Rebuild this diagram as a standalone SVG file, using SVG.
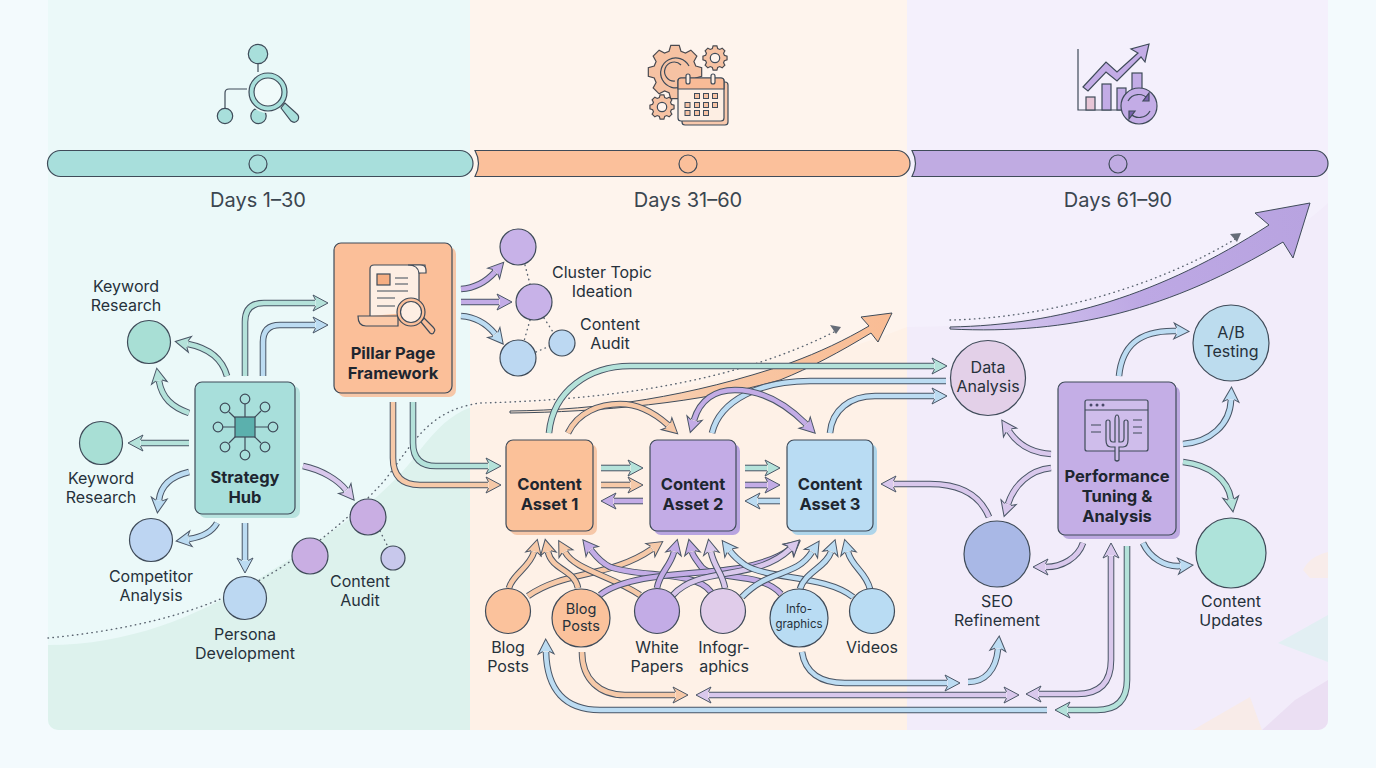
<svg xmlns="http://www.w3.org/2000/svg" width="1376" height="768" viewBox="0 0 1376 768">
<style>
text{font-family:Inter,"Noto Sans","Liberation Sans",sans-serif;text-anchor:middle;fill:#26313b}
.l{font-size:16px}
.d{font-size:20px;fill:#3b4650}
.b{font-size:16.5px;font-weight:700;fill:#1e2630}
.s{stroke:#3f4b59;stroke-width:1.2}
.n{stroke:#3f4b59;stroke-width:1.2;fill:none}
.o{fill:none;stroke:#4a5666;stroke-width:6.6}
.i{fill:none;stroke-width:4.6}
.teal{stroke:#b4e2da;marker-end:url(#h-teal)}
.peach{stroke:#f6c9a8;marker-end:url(#h-peach)}
.purp{stroke:#c3ace6;marker-end:url(#h-purp)}
.lil{stroke:#d9c8ec;marker-end:url(#h-lil)}
.blue{stroke:#bcdcf2;marker-end:url(#h-blue)}
.dot{fill:none;stroke:#5a6470;stroke-width:1.4;stroke-linecap:round;stroke-dasharray:.5 4.4}
.sh{stroke:none}
</style>
<defs>
<marker id="h-teal" markerUnits="userSpaceOnUse" markerWidth="30" markerHeight="30" viewBox="-5 -15 30 30" refX="0" refY="0" orient="auto-start-reverse"><path d="M.5,3.2L-2,8L13,0L-2,-8L.5,-3.2" fill="#b4e2da" stroke="#4a5666" stroke-width="1"/></marker>
<marker id="h-peach" markerUnits="userSpaceOnUse" markerWidth="30" markerHeight="30" viewBox="-5 -15 30 30" refX="0" refY="0" orient="auto-start-reverse"><path d="M.5,3.2L-2,8L13,0L-2,-8L.5,-3.2" fill="#f6c9a8" stroke="#4a5666" stroke-width="1"/></marker>
<marker id="h-purp" markerUnits="userSpaceOnUse" markerWidth="30" markerHeight="30" viewBox="-5 -15 30 30" refX="0" refY="0" orient="auto-start-reverse"><path d="M.5,3.2L-2,8L13,0L-2,-8L.5,-3.2" fill="#c3ace6" stroke="#4a5666" stroke-width="1"/></marker>
<marker id="h-lil" markerUnits="userSpaceOnUse" markerWidth="30" markerHeight="30" viewBox="-5 -15 30 30" refX="0" refY="0" orient="auto-start-reverse"><path d="M.5,3.2L-2,8L13,0L-2,-8L.5,-3.2" fill="#d9c8ec" stroke="#4a5666" stroke-width="1"/></marker>
<marker id="h-blue" markerUnits="userSpaceOnUse" markerWidth="30" markerHeight="30" viewBox="-5 -15 30 30" refX="0" refY="0" orient="auto-start-reverse"><path d="M.5,3.2L-2,8L13,0L-2,-8L.5,-3.2" fill="#bcdcf2" stroke="#4a5666" stroke-width="1"/></marker>
<linearGradient id="gp" gradientUnits="userSpaceOnUse" x1="510" y1="412" x2="892" y2="313"><stop offset="0" stop-color="#fdeadb"/><stop offset=".5" stop-color="#f8c8a6"/><stop offset="1" stop-color="#f9bc94"/></linearGradient>
<linearGradient id="gv" gradientUnits="userSpaceOnUse" x1="950" y1="330" x2="1310" y2="203"><stop offset="0" stop-color="#d9cdf0"/><stop offset=".5" stop-color="#bda8e4"/><stop offset="1" stop-color="#b8a3e0"/></linearGradient>
<clipPath id="panel"><rect x="48" y="-10" width="1280" height="740" rx="10"/></clipPath>
<clipPath id="c1"><rect x="48" y="0" width="422" height="730"/></clipPath>
<clipPath id="c2"><rect x="470" y="0" width="437" height="730"/></clipPath>
<clipPath id="c3"><rect x="907" y="0" width="421" height="730"/></clipPath>
<path id="wave" d="M0,645H48C130,645 200,615 260,578C320,540 380,505 420,450C440,425 455,410 480,405C620,402 770,380 907,327C1050,327 1240,285 1328,203V740H0Z"/>
<path id="gear" vector-effect="non-scaling-stroke" d="M7.69,-2.21L9.88,-1.56L9.88,1.56L7.69,2.21L7,3.88L8.09,5.88L5.88,8.09L3.88,7L2.21,7.69L1.56,9.88L-1.56,9.88L-2.21,7.69L-3.88,7L-5.88,8.09L-8.09,5.88L-7,3.88L-7.69,2.21L-9.88,1.56L-9.88,-1.56L-7.69,-2.21L-7,-3.88L-8.09,-5.88L-5.88,-8.09L-3.88,-7L-2.21,-7.69L-1.56,-9.88L1.56,-9.88L2.21,-7.69L3.88,-7L5.88,-8.09L8.09,-5.88L7,-3.88Z"/>
</defs>

<g id="background">
<rect width="1376" height="768" fill="#f3fafd"/>
<g clip-path="url(#panel)">
<rect x="48" y="-10" width="422" height="740" fill="#ebf9f9"/>
<rect x="470" y="-10" width="437" height="740" fill="#fef4ed"/>
<rect x="907" y="-10" width="421" height="740" fill="#f4f0fc"/>
<use href="#wave" fill="#ddf2ed" clip-path="url(#c1)"/>
<use href="#wave" fill="#fef1e7" clip-path="url(#c2)"/>
<use href="#wave" fill="#f2ecfa" clip-path="url(#c3)"/>
<polygon points="1278,643 1328,615 1328,662" fill="#e2eff3"/>
<path d="M1303,570Q1310,556 1328,552V578H1310Z" fill="#f8ecea"/>
<path d="M1193,730L1250,697L1262,730Z" fill="#f8ebe8"/>
<path d="M1262,730L1295,700L1328,680V730Z" fill="#ebdff3"/>
</g>
</g>

<g id="phase-1">
<rect x="47.500" y="150.500" width="425.500" height="26" rx="13" fill="#a8dfdc" class="s"/>
<circle cx="258" cy="164" r="9" fill="#a8dfdc" class="s"/>
<text class="d" x="258" y="207">Days 1–30</text>
<g id="icon-search">
<path class="n" d="M258,64V72M225,108V93Q225,89 229,89H247"/>
<circle cx="258" cy="54" r="9.700" fill="#a8dfdb" class="s"/>
<circle cx="225" cy="116" r="7.700" fill="#a8dfdb" class="s"/>
<circle cx="258.500" cy="116" r="7.700" fill="#a8dfdb" class="s"/>
<circle cx="268" cy="92" r="21" fill="#ebf9f9"/>
<path d="M281,108L291,121Q295,124 298,120Q300,116 296,113L285,103Z" fill="#a8dfdb" class="s"/>
<circle cx="268" cy="92" r="19" fill="#a8dfdb" class="s"/>
<circle cx="268" cy="92" r="14" fill="#f0fafa" class="s"/>
</g>
</g>

<g id="phase-2">
<path d="M475,150.500H897A13,13 0 0 1 897,176.500H475Q482,163.500 475,150.500Z" fill="#fbc09b" class="s"/>
<circle cx="688" cy="164" r="9" fill="#fbc09b" class="s"/>
<text class="d" x="688" y="207">Days 31–60</text>
<g id="icon-calendar">
<use href="#gear" transform="translate(675,72) scale(2.700)" fill="#f6c2a3" stroke="#4a4a50" stroke-width="1.200"/>
<path class="n" d="M689,66A15,15 0 1 0 683,86M681,65A9.500,9.500 0 1 0 675,81"/>
<use href="#gear" transform="translate(715,58) scale(1.220)" fill="#f6c2a3" stroke="#4a4a50" stroke-width="1.200"/>
<circle cx="715" cy="58" r="4.700" fill="#fef3ec" class="s"/>
<use href="#gear" transform="translate(662,107) scale(1.220)" fill="#f6c2a3" stroke="#4a4a50" stroke-width="1.200"/>
<circle cx="662" cy="107" r="4.700" fill="#fef3ec" class="s"/>
<rect x="682" y="82" width="46" height="43" rx="3" fill="#f8c8ac" class="s"/>
<rect x="678" y="78" width="46" height="43" rx="3" fill="#fdeee3" class="s"/>
<path d="M678,89V81Q678,78 681,78H721Q724,78 724,81V89Z" fill="#f9bb97" class="s"/>
<rect x="686" y="74" width="4" height="10" rx="2" fill="#fdeee3" class="s"/>
<rect x="711" y="74" width="4" height="10" rx="2" fill="#fdeee3" class="s"/>
<g fill="#f6c2a3" stroke="#3f4b59" stroke-width="1">
<rect x="694.500" y="93.500" width="5" height="5"/><rect x="703.500" y="93.500" width="5" height="5"/><rect x="712.500" y="93.500" width="5" height="5"/>
<rect x="685" y="102.500" width="5" height="5"/><rect x="694.500" y="102.500" width="5" height="5"/><rect x="703.500" y="102.500" width="5" height="5"/><rect x="712.500" y="102.500" width="5" height="5"/>
<rect x="685" y="110.500" width="5" height="5"/><rect x="694.500" y="110.500" width="5" height="5"/><rect x="703.500" y="110.500" width="5" height="5"/>
</g>
</g>
</g>

<g id="phase-3">
<path d="M912,150.500H1315A13,13 0 0 1 1315,176.500H912Q919,163.500 912,150.500Z" fill="#c0abe2" class="s"/>
<circle cx="1118" cy="164" r="9" fill="#c0abe2" class="s"/>
<text class="d" x="1118" y="207">Days 61–90</text>
<g id="icon-chart">
<path class="n" stroke-width="1.400" d="M1078,49V110H1128"/>
<rect x="1086" y="97" width="9" height="13" fill="#e7c5d6" class="s"/>
<rect x="1102" y="84" width="9" height="26" fill="#c3ace6" class="s"/>
<rect x="1117" y="88" width="9" height="22" fill="#c3ace6" class="s"/>
<rect x="1132" y="73" width="10" height="28" fill="#c3ace6" class="s"/>
<polygon points="1083,87 1106,62 1117,72 1138,53 1131,49 1149,44 1145,62 1141,57 1117,81 1106,72 1088,91" fill="#c3ace6" class="s"/>
<circle cx="1139" cy="106" r="18" fill="#c3ace6" class="s"/>
<path class="n" d="M1128,101A12,12 0 0 1 1148,99M1150,111A12,12 0 0 1 1130,113"/>
<path d="M1149,93V101H1143ZM1129,119V111H1135Z" fill="#7a62b0" class="s"/>
</g>
</g>

<g id="connectors">
<path class="dot" d="M48,638C110,632 170,620 218,600C275,578 340,530 385,480C415,440 430,410 480,403C600,400 730,385 836,331"/>
<polygon points="841,327 830,325 836,334" fill="#666d78"/>
<path class="dot" d="M950,320C1050,318 1160,285 1237,238"/>
<polygon points="1241,233 1230,234 1237,242" fill="#666d78"/>

<path d="M510,411C600,410 690,397 790,363C820,352 845,340 869,326L861,317L892,313L878,342L871,333C840,352 810,368 780,380C700,403 600,412 510,413Z" fill="url(#gp)" stroke="#3f4b59" stroke-width="1"/>
<path d="M950,327C1060,325 1160,295 1269,225L1255,213L1310,203L1293,258L1283,242C1170,310 1070,335 950,329Z" fill="url(#gv)" stroke="#3f4b59" stroke-width="1"/>

<path class="o" d="M227,376C222,358 208,348 188,344"/><path class="i teal" d="M227,376C222,358 208,348 188,344"/>
<path class="o" d="M189,413C172,407 162,398 159,381"/><path class="i teal" d="M189,413C172,407 162,398 159,381"/>
<path class="o" d="M189,443H141"/><path class="i teal" d="M189,443H141"/>
<path class="o" d="M189,472C172,476 161,484 159,500"/><path class="i blue" d="M189,472C172,476 161,484 159,500"/>
<path class="o" d="M217,523C212,532 202,537 189,539"/><path class="i blue" d="M217,523C212,532 202,537 189,539"/>
<path class="o" d="M245,523V560"/><path class="i blue" d="M245,523V560"/>
<path class="o" d="M303,466C322,470 338,480 346,490"/><path class="i lil" d="M303,466C322,470 338,480 346,490"/>
<path class="o" d="M245,376V322Q245,303 264,303H315"/><path class="i teal" d="M245,376V322Q245,303 264,303H315"/>
<path class="o" d="M263,376V342Q263,325 280,325H315"/><path class="i blue" d="M263,376V342Q263,325 280,325H315"/>
<path class="o" d="M393,402V458Q393,485 420,485H488"/><path class="i peach" d="M393,402V458Q393,485 420,485H488"/>
<path class="o" d="M413,402V443Q413,466 436,466H488"/><path class="i teal" d="M413,402V443Q413,466 436,466H488"/>

<path class="o" d="M461,289C476,288 486,282 495,272"/><path class="i purp" d="M461,289C476,288 486,282 495,272"/>
<path class="o" d="M461,302H499"/><path class="i purp" d="M461,302H499"/>
<path class="o" d="M461,316C476,317 486,323 495,334"/><path class="i blue" d="M461,316C476,317 486,323 495,334"/>

<path class="o" d="M549,433C553,390 590,366 630,366H934"/><path class="i teal" d="M549,433C553,390 590,366 630,366H934"/>
<path class="o" d="M712,433C720,400 760,381 810,381H946"/><path class="i blue" style="marker-end:none" d="M712,433C720,400 760,381 810,381H946"/>
<path class="o" d="M830,433C832,410 850,396 875,396H934"/><path class="i blue" d="M830,433C832,410 850,396 875,396H934"/>
<path class="o" d="M568,433C578,412 600,404 620,404C642,404 658,416 668,425"/><path class="i peach" d="M568,433C578,412 600,404 620,404C642,404 658,416 668,425"/>
<path class="o" d="M694,420C700,400 715,390 735,390C765,390 790,408 806,424"/><path class="i purp" style="marker-start:url(#h-purp)" d="M694,420C700,400 715,390 735,390C765,390 790,408 806,424"/>

<path class="o" d="M601,468H630"/><path class="i teal" d="M601,468H630"/>
<path class="o" d="M601,485H630"/><path class="i peach" d="M601,485H630"/>
<path class="o" d="M643,501H614"/><path class="i purp" d="M643,501H614"/>
<path class="o" d="M745,468H767"/><path class="i teal" d="M745,468H767"/>
<path class="o" d="M745,485H767"/><path class="i purp" d="M745,485H767"/>
<path class="o" d="M780,501H758"/><path class="i blue" d="M780,501H758"/>
<path class="o" d="M989,517C980,495 960,484 930,484H894"/><path class="i lil" d="M989,517C980,495 960,484 930,484H894"/>

<path class="o" d="M509,588C512,575 530,567 534,552"/><path class="i peach" d="M509,588C512,575 530,567 534,552"/>
<path class="o" d="M528,596C565,570 610,578 652,549"/><path class="i peach" d="M528,596C565,570 610,578 652,549"/>
<path class="o" d="M578,588C575,570 552,570 548,552"/><path class="i peach" d="M578,588C575,570 552,570 548,552"/>
<path class="o" d="M640,595C610,575 575,570 565,552"/><path class="i peach" d="M640,595C610,575 575,570 565,552"/>
<path class="o" d="M711,592C695,570 640,578 610,567C600,562 595,555 591,550"/><path class="i purp" d="M711,592C695,570 640,578 610,567C600,562 595,555 591,550"/>
<path class="o" d="M781,594C760,570 710,582 700,565C695,558 693,556 692,552"/><path class="i purp" d="M781,594C760,570 710,582 700,565C695,558 693,556 692,552"/>
<path class="o" d="M600,595C630,572 700,575 740,568C765,563 780,557 790,549"/><path class="i purp" d="M600,595C630,572 700,575 740,568C765,563 780,557 790,549"/>
<path class="o" d="M673,595C700,565 755,582 790,549"/><path class="i lil" d="M673,595C700,565 755,582 790,549"/>
<path class="o" d="M657,588C660,572 670,567 674,552"/><path class="i purp" d="M657,588C660,572 670,567 674,552"/>
<path class="o" d="M725,588C722,572 714,567 711,552"/><path class="i lil" d="M725,588C722,572 714,567 711,552"/>
<path class="o" d="M853,597C825,575 770,580 745,565C738,560 733,555 730,551"/><path class="i blue" d="M853,597C825,575 770,580 745,565C738,560 733,555 730,551"/>
<path class="o" d="M742,597C770,568 795,578 812,552"/><path class="i blue" d="M742,597C770,568 795,578 812,552"/>
<path class="o" d="M800,589C805,572 826,567 831,552"/><path class="i blue" d="M800,589C805,572 826,567 831,552"/>
<path class="o" d="M870,589C866,572 852,567 848,552"/><path class="i blue" d="M870,589C866,572 852,567 848,552"/>

<path class="o" d="M582,652C582,680 600,695 625,695H675"/><path class="i peach" d="M582,652C582,680 600,695 625,695H675"/>
<path class="o" d="M709,695H1006"/><path class="i lil" style="marker-start:url(#h-lil)" d="M709,695H1006"/>
<path class="o" d="M802,652C805,672 820,683 845,683H947"/><path class="i blue" d="M802,652C805,672 820,683 845,683H947"/>
<path class="o" d="M1047,710H600C565,710 547,690 546,652"/><path class="i blue" d="M1047,710H600C565,710 547,690 546,652"/>
<path class="o" d="M968,682C985,682 996,670 998,649"/><path class="i blue" d="M968,682C985,682 996,670 998,649"/>

<path class="o" d="M1119,376C1122,345 1140,330 1176,331"/><path class="i blue" d="M1119,376C1122,345 1140,330 1176,331"/>
<path class="o" d="M1183,444C1210,442 1230,425 1231,400"/><path class="i blue" d="M1183,444C1210,442 1230,425 1231,400"/>
<path class="o" d="M1183,462C1210,465 1228,480 1231,499"/><path class="i teal" d="M1183,462C1210,465 1228,480 1231,499"/>
<path class="o" d="M1051,454C1030,453 1017,443 1009,431"/><path class="i lil" d="M1051,454C1030,453 1017,443 1009,431"/>
<path class="o" d="M1051,468C1030,470 1014,485 1008,504"/><path class="i lil" d="M1051,468C1030,470 1014,485 1008,504"/>
<path class="o" d="M1083,543C1078,558 1062,567 1046,567"/><path class="i lil" d="M1083,543C1078,558 1062,567 1046,567"/>
<path class="o" d="M1039,694H1077Q1111,694 1111,660V556"/><path class="i lil" style="marker-start:url(#h-lil)" d="M1039,694H1077Q1111,694 1111,660V556"/>
<path class="o" d="M1127,546V680Q1127,710 1097,710H1068"/><path class="i teal" d="M1127,546V680Q1127,710 1097,710H1068"/>
<path class="o" d="M1143,543C1150,558 1165,567 1180,566"/><path class="i blue" d="M1143,543C1150,558 1165,567 1180,566"/>
</g>

<g id="node-strategy-hub">
<rect x="199" y="386" width="101" height="132" rx="7" fill="#b9e3df" class="sh"/>
<rect x="195" y="382" width="100" height="132" rx="7" fill="#a8dfdb" class="s"/>
<path class="n" d="M245,404V450M223,427H268M229,412L261,443M261,411L229,443"/>
<rect x="235" y="417" width="20" height="20" fill="#5bb0ad" class="s"/>
<g fill="#a8dfdb" class="s">
<circle cx="245" cy="399" r="4.800"/><circle cx="245" cy="455" r="4.800"/><circle cx="218" cy="427" r="4.800"/><circle cx="273" cy="427" r="4.800"/>
<circle cx="225" cy="408" r="4.800"/><circle cx="265" cy="407" r="4.800"/><circle cx="225" cy="447" r="4.800"/><circle cx="265" cy="447" r="4.800"/>
</g>
<text class="b" x="245" y="483">Strategy</text><text class="b" x="245" y="503">Hub</text>
</g>

<g id="node-keyword-research-1">
<text class="l" x="126" y="292">Keyword</text><text class="l" x="126" y="311">Research</text>
<circle cx="149" cy="342" r="21.500" fill="#a8dfd5" class="s"/>
</g>
<g id="node-keyword-research-2">
<circle cx="101" cy="443" r="21.500" fill="#a8dfd5" class="s"/>
<text class="l" x="101" y="484">Keyword</text><text class="l" x="101" y="503">Research</text>
</g>
<g id="node-competitor-analysis">
<circle cx="151" cy="540" r="21.500" fill="#bdd5f2" class="s"/>
<text class="l" x="151" y="582">Competitor</text><text class="l" x="151" y="601">Analysis</text>
</g>
<g id="node-persona-development">
<circle cx="245" cy="598" r="21.500" fill="#bcd8f2" class="s"/>
<text class="l" x="245" y="640">Persona</text><text class="l" x="245" y="659">Development</text>
</g>
<g id="node-content-audit-1">
<path class="dot" d="M380,531L388,547"/>
<circle cx="368" cy="517" r="18" fill="#c9aee3" class="s"/>
<circle cx="310" cy="556" r="18" fill="#c9aee3" class="s"/>
<circle cx="393" cy="558" r="12" fill="#c8c8ec" class="s"/>
<text class="l" x="360" y="587">Content</text><text class="l" x="360" y="606">Audit</text>
</g>

<g id="node-pillar-page">
<rect x="338" y="247" width="118" height="150" rx="7" fill="#f6c7a8" class="sh"/>
<rect x="334" y="243" width="118" height="150" rx="7" fill="#fbbf99" class="s"/>
<path d="M370,316V269Q370,265 374,265H425Q426,272 419,273V312" fill="#fdeee3" class="s"/>
<path d="M408,265Q418,265 419,273H426V270Q426,265 420,265Z" fill="#fdeee3" class="s"/>
<path d="M358,316H398V326H366Q358,326 358,316Z" fill="#fbc9a8" class="s"/>
<rect x="377" y="274" width="13" height="11" fill="#f6ae82" class="s"/>
<path class="n" d="M395,278H408M395,284H408M377,291H408M377,298H395M377,306H395"/>
<path d="M421,322L430,333Q433,335 434,332Q436,330 433,327L424,318Z" fill="#fbbf99" class="s"/>
<circle cx="411" cy="312" r="14" fill="#fbbf99" class="s"/>
<circle cx="411" cy="312" r="10.500" fill="#fdeee3" class="s"/>
<text class="b" x="393" y="359">Pillar Page</text><text class="b" x="393" y="379">Framework</text>
</g>

<g id="node-cluster-topic">
<path class="dot" d="M525,265L530,284M530,320L524,341M544,318L553,332M536,352L550,346"/>
<circle cx="518" cy="247" r="18" fill="#c8b2e8" class="s"/>
<circle cx="534" cy="302" r="18" fill="#c8b2e8" class="s"/>
<circle cx="518" cy="358" r="18" fill="#bcd8f2" class="s"/>
<text class="l" x="602" y="278">Cluster Topic</text><text class="l" x="602" y="297">Ideation</text>
</g>
<g id="node-content-audit-2">
<circle cx="562" cy="343" r="13" fill="#bcd8f2" class="s"/>
<text class="l" x="610" y="330">Content</text><text class="l" x="610" y="349">Audit</text>
</g>

<g id="node-content-asset-1">
<rect x="510" y="444" width="87" height="91" rx="7" fill="#f6c7a8" class="sh"/>
<rect x="506" y="440" width="87" height="91" rx="7" fill="#fbc199" class="s"/>
<text class="b" x="549.500" y="490">Content</text><text class="b" x="549.500" y="510">Asset 1</text>
</g>
<g id="node-content-asset-2">
<rect x="654" y="444" width="86" height="91" rx="7" fill="#b8a4e0" class="sh"/>
<rect x="650" y="440" width="86" height="91" rx="7" fill="#c3ace6" class="s"/>
<text class="b" x="693" y="490">Content</text><text class="b" x="693" y="510">Asset 2</text>
</g>
<g id="node-content-asset-3">
<rect x="791" y="444" width="86" height="91" rx="7" fill="#aed5ea" class="sh"/>
<rect x="787" y="440" width="86" height="91" rx="7" fill="#b9dcf3" class="s"/>
<text class="b" x="830" y="490">Content</text><text class="b" x="830" y="510">Asset 3</text>
</g>

<g id="node-blog-posts-1">
<circle cx="508" cy="611" r="22.500" fill="#fbc29c" class="s"/>
<text class="l" x="508" y="653">Blog</text><text class="l" x="508" y="672">Posts</text>
</g>
<g id="node-blog-posts-2">
<circle cx="581" cy="618" r="29" fill="#fbc29c" class="s"/>
<text x="581" y="614" font-size="14.500">Blog</text><text x="581" y="631" font-size="14.500">Posts</text>
</g>
<g id="node-white-papers">
<circle cx="657" cy="611" r="22.500" fill="#c3ace6" class="s"/>
<text class="l" x="657" y="653">White</text><text class="l" x="657" y="672">Papers</text>
</g>
<g id="node-infographics-1">
<circle cx="723" cy="611" r="22.500" fill="#e0ccea" class="s"/>
<text class="l" x="724" y="653">Infogr-</text><text class="l" x="724" y="672">aphics</text>
</g>
<g id="node-infographics-2">
<circle cx="799" cy="618" r="29" fill="#b9dcf3" class="s"/>
<text x="799" y="613" font-size="11.500">Info-</text><text x="799" y="628" font-size="11.500">graphics</text>
</g>
<g id="node-videos">
<circle cx="872" cy="611" r="22.500" fill="#b9dcf3" class="s"/>
<text class="l" x="872" y="653">Videos</text>
</g>

<g id="node-data-analysis">
<circle cx="988" cy="378" r="37.500" fill="#e3d0e8" class="s"/>
<text class="l" x="988" y="373">Data</text><text class="l" x="988" y="392">Analysis</text>
</g>
<g id="node-ab-testing">
<circle cx="1231" cy="343" r="38" fill="#bcdcee" class="s"/>
<text class="l" x="1231" y="338">A/B</text><text class="l" x="1231" y="357">Testing</text>
</g>
<g id="node-performance">
<rect x="1062" y="386" width="118" height="153" rx="7" fill="#bca8e0" class="sh"/>
<rect x="1058" y="382" width="118" height="153" rx="7" fill="#c4aee6" class="s"/>
<rect x="1085" y="400" width="63" height="51" rx="2" fill="#cfbdeb" class="s"/>
<path class="n" d="M1085,410H1148M1091,425H1101M1091,432H1101M1133,420H1142M1133,427H1142M1133,433H1142"/>
<g fill="#4a4a6a"><circle cx="1091" cy="405" r="1.500"/><circle cx="1097" cy="405" r="1.500"/><circle cx="1103" cy="405" r="1.500"/></g>
<path d="M1115,460V447H1111Q1106,447 1106,440V422Q1106,420 1108,420Q1110,420 1110,422V438Q1110,442 1113,442H1115V420Q1115,415 1117,415Q1119,415 1119,420V442H1121Q1124,442 1124,438V422Q1124,420 1126,420Q1128,420 1128,422V440Q1128,447 1123,447H1119V460Q1117,462 1115,460Z" fill="#cfbdeb" class="s"/>
<text class="b" x="1117" y="482">Performance</text><text class="b" x="1117" y="502">Tuning &amp;</text><text class="b" x="1117" y="522">Analysis</text>
</g>
<g id="node-seo-refinement">
<circle cx="997" cy="554" r="33" fill="#a9b8e6" class="s"/>
<text class="l" x="997" y="607">SEO</text><text class="l" x="997" y="626">Refinement</text>
</g>
<g id="node-content-updates">
<circle cx="1231" cy="553" r="35" fill="#aee3da" class="s"/>
<text class="l" x="1231" y="607">Content</text><text class="l" x="1231" y="626">Updates</text>
</g>
</svg>
